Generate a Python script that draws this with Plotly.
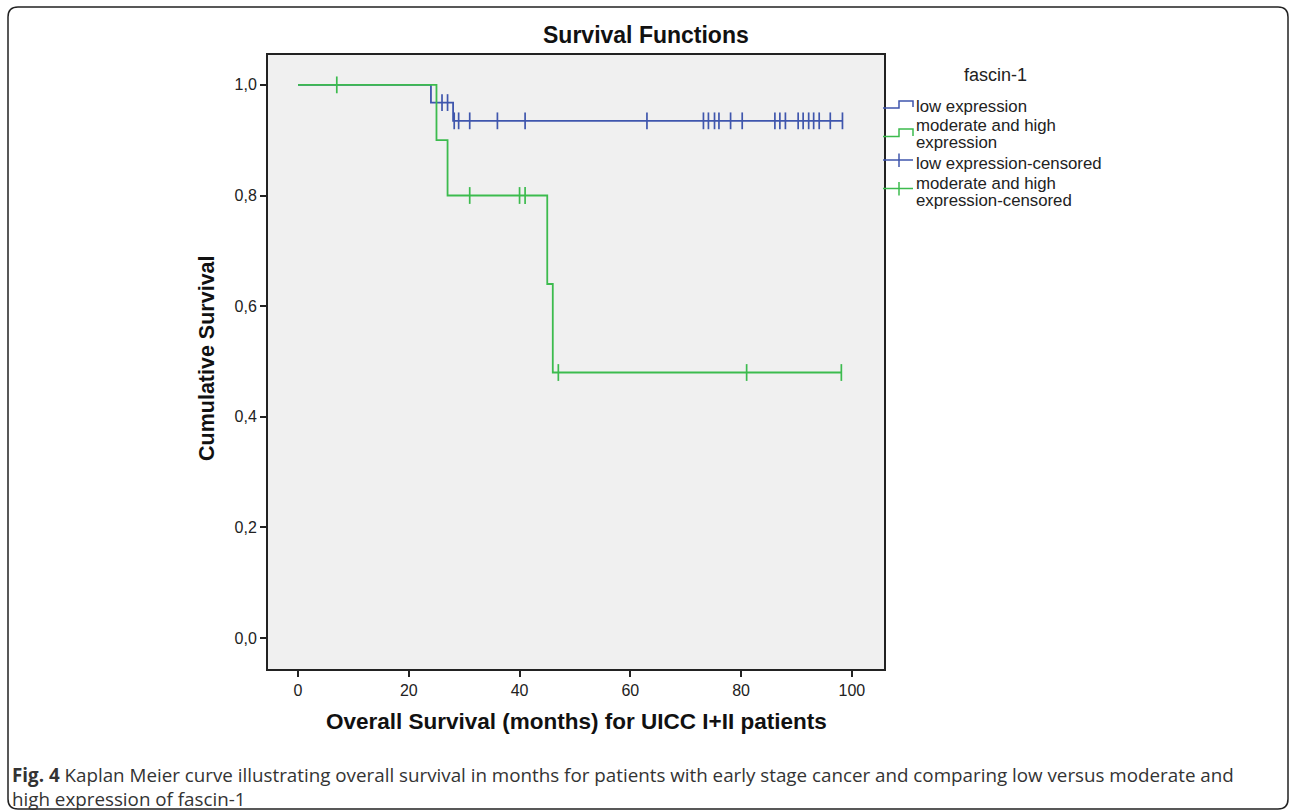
import plotly.graph_objects as go

W, H = 1292, 812

# ---- data ----
low_times = [0, 24, 28, 98.3]
low_surv = [1.0, 0.968, 0.935, 0.935]
low_cens_t = [26, 27, 28.2, 29, 31, 36, 41, 63, 73.2, 74.1, 75.2, 76, 78.1, 80.2,
              86.1, 87, 88, 90.3, 91.2, 92.2, 93.1, 94.1, 96.1, 98.3]
low_cens_s = [0.968, 0.968] + [0.935] * 22

mod_times = [0, 25, 27, 45, 46, 98.1]
mod_surv = [1.0, 0.90, 0.80, 0.64, 0.48, 0.48]
mod_cens_t = [7, 31, 40, 41, 47, 81, 98.1]
mod_cens_s = [1.0, 0.80, 0.80, 0.80, 0.48, 0.48, 0.48]

y_ticks = [0.0, 0.2, 0.4, 0.6, 0.8, 1.0]
x_ticks = [0, 20, 40, 60, 80, 100]

legend_title = "fascin-1"
legend_lines = ["low expression", "moderate and high", "expression",
                "low expression-censored", "moderate and high", "expression-censored"]

BLUE = "#3f56ad"
GREEN = "#3cbb4e"

def px(x):
    return x / W

def py(y):
    return 1 - y / H

# plot area pixels
L, R, T, B = 268, 884, 55, 669

fig = go.Figure()
fig.add_trace(go.Scatter(x=low_times, y=low_surv, mode="lines", line=dict(color=BLUE, width=1.8, shape="hv"),
                         name="low expression", showlegend=False))
fig.add_trace(go.Scatter(x=mod_times, y=mod_surv, mode="lines", line=dict(color=GREEN, width=1.8, shape="hv"),
                         name="moderate and high expression", showlegend=False))
fig.add_trace(go.Scatter(x=low_cens_t, y=low_cens_s, mode="markers",
                         marker=dict(symbol="line-ns", size=12, line=dict(color=BLUE, width=1.7)),
                         name="low expression-censored", showlegend=False))
fig.add_trace(go.Scatter(x=mod_cens_t, y=mod_cens_s, mode="markers",
                         marker=dict(symbol="line-ns", size=12, line=dict(color=GREEN, width=1.7)),
                         name="moderate and high expression-censored", showlegend=False))

axis_font = dict(family="Arial, Liberation Sans, sans-serif", size=16, color="#222")
fig.update_xaxes(domain=[px(L), px(R)], range=[-5.42, 105.8], tickvals=x_ticks, ticks="outside",
                 ticklen=6, tickwidth=2, tickcolor="#222", showline=True, linecolor="#222", linewidth=2,
                 mirror=True, showgrid=False, zeroline=False, tickfont=axis_font, anchor="y")
fig.update_yaxes(domain=[py(B), py(T)], range=[-0.056, 1.054], tickvals=y_ticks, tickformat=".1f",
                 ticks="outside", ticklen=6, tickwidth=2, tickcolor="#222", showline=True, linecolor="#222",
                 linewidth=2, mirror=True, showgrid=False, zeroline=False, tickfont=axis_font, anchor="x")

annots = []
annots.append(dict(text="<b>Survival Functions</b>", x=px(646), y=py(35), xref="paper", yref="paper",
                   showarrow=False, font=dict(family="Arial, Liberation Sans, sans-serif", size=23, color="#111"),
                   xanchor="center", yanchor="middle"))
annots.append(dict(text="<b>Overall Survival (months) for UICC I+II patients</b>", x=px(576), y=py(721),
                   xref="paper", yref="paper", showarrow=False,
                   font=dict(family="Arial, Liberation Sans, sans-serif", size=22.5, color="#111"),
                   xanchor="center", yanchor="middle"))
annots.append(dict(text="<b>Cumulative Survival</b>", x=px(207), y=py(358), xref="paper", yref="paper",
                   showarrow=False, textangle=-90,
                   font=dict(family="Arial, Liberation Sans, sans-serif", size=21.5, color="#111"),
                   xanchor="center", yanchor="middle"))

# legend (manual)
leg_font = dict(family="Arial, Liberation Sans, sans-serif", size=16.8, color="#222")
annots.append(dict(text=legend_title, x=px(995), y=py(75), xref="paper", yref="paper", showarrow=False,
                   font=dict(family="Arial, Liberation Sans, sans-serif", size=18, color="#222"),
                   xanchor="center", yanchor="middle"))
leg_y = [106, 126, 143, 163, 183, 200]
for txt, yc in zip(legend_lines, leg_y):
    annots.append(dict(text=txt, x=px(915), y=py(yc), xref="paper", yref="paper", showarrow=False,
                       font=leg_font, xanchor="left", yanchor="middle", align="left", borderpad=0))

# caption
cap_font = dict(family="Open Sans, sans-serif", size=18.8, color="#333")
annots.append(dict(text="<b>Fig. 4</b> Kaplan Meier curve illustrating overall survival in months for patients with early stage cancer and comparing low versus moderate and<br>high expression of fascin-1",
                   x=px(10), y=py(787), xref="paper", yref="paper", showarrow=False, font=cap_font,
                   xanchor="left", yanchor="middle", align="left"))

shapes = []
# legend icons
def step_icon(y_low, y_high, y_end, color):
    pts = [(883, y_low), (899, y_low), (899, y_high), (913, y_high), (913, y_end)]
    path = "M " + " L ".join(f"{px(a)},{py(b)}" for a, b in pts)
    return dict(type="path", path=path, xref="paper", yref="paper", line=dict(color=color, width=1.5))

shapes.append(step_icon(108, 101, 107, BLUE))
shapes.append(step_icon(136.5, 129, 136, GREEN))
for yc, color in [(160, BLUE), (188.5, GREEN)]:
    shapes.append(dict(type="line", x0=px(883), x1=px(913), y0=py(yc), y1=py(yc), xref="paper", yref="paper",
                       line=dict(color=color, width=1.5)))
    shapes.append(dict(type="line", x0=px(899), x1=px(899), y0=py(yc - 6.5), y1=py(yc + 7), xref="paper",
                       yref="paper", line=dict(color=color, width=1.5)))

# outer rounded frame
x0, y0, x1, y1, r = 8, 7, 1288, 809, 10
fp = [f"M {px(x0 + r)},{py(y0)}", f"L {px(x1 - r)},{py(y0)}",
      f"Q {px(x1)},{py(y0)} {px(x1)},{py(y0 + r)}", f"L {px(x1)},{py(y1 - r)}",
      f"Q {px(x1)},{py(y1)} {px(x1 - r)},{py(y1)}", f"L {px(x0 + r)},{py(y1)}",
      f"Q {px(x0)},{py(y1)} {px(x0)},{py(y1 - r)}", f"L {px(x0)},{py(y0 + r)}",
      f"Q {px(x0)},{py(y0)} {px(x0 + r)},{py(y0)} Z"]
shapes.append(dict(type="path", path=" ".join(fp), xref="paper", yref="paper",
                   line=dict(color="#222", width=1.5), layer="below"))

fig.update_layout(width=W, height=H, margin=dict(l=0, r=0, t=0, b=0, autoexpand=False),
                  paper_bgcolor="white", plot_bgcolor="#f0f0f0", separators=",.",
                  annotations=annots, shapes=shapes, showlegend=False)

fig.write_html("out.html", config={"displayModeBar": False},
               post_script="document.body.style.margin='0px';document.body.style.overflow='hidden';")
